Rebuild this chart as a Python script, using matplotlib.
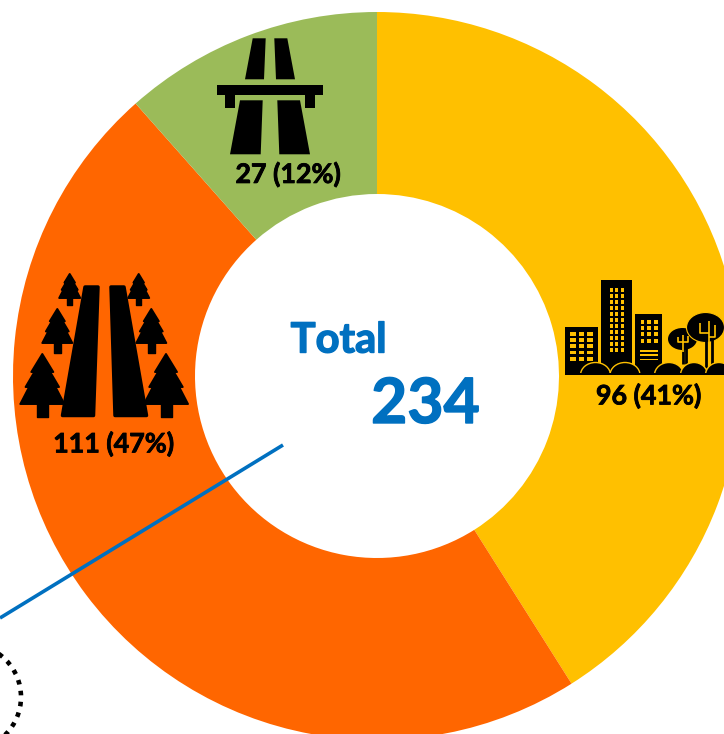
import matplotlib
matplotlib.use("Agg")
import matplotlib.pyplot as plt
import matplotlib.patheffects as pe
from matplotlib.patches import Circle, Ellipse, Polygon, Rectangle

counts = [96, 111, 27]
labels = ["96 (41%)", "111 (47%)", "27 (12%)"]
colors = ["#FFC000", "#FF6600", "#9BBB59"]
total = 234

BLUE = "#0070C0"
BLACK = "black"
FONT = "Lato"


def poly(ax, pts, color=BLACK, lw=0.0, z=3):
    ax.add_patch(Polygon(pts, closed=True, fc=color, ec=color, lw=lw, joinstyle="round", zorder=z))


def rect(ax, x0, y0, x1, y1, color=BLACK, z=3):
    ax.add_patch(Rectangle((x0, y0), x1 - x0, y1 - y0, fc=color, ec="none", zorder=z))


def tree(ax, cx, top, base, trunk, hw):
    """Three tier fir, drawn in pixel coords."""
    h = base - top
    pts = [
        (0, 0), (0.5, 0.36), (0.36, 0.36), (0.76, 0.66), (0.6, 0.66), (1.0, 1.0),
    ]
    right = [(cx + a * hw, top + b * h) for a, b in pts]
    left = [(cx - a * hw, top + b * h) for a, b in reversed(pts[1:])]
    poly(ax, right + left, lw=1.4)
    tw = hw * 0.25
    poly(ax, [(cx - tw, base), (cx + tw, base), (cx + tw, trunk), (cx - tw, trunk)], lw=1.0)


def motorway(ax):
    poly(ax, [(252.7, 38.3), (265.7, 38.3), (264, 79.3), (245, 79.3)])
    poly(ax, [(274.3, 38.3), (287.3, 38.3), (295, 79.3), (276, 79.3)])
    rect(ax, 217, 85, 323, 95)
    rect(ax, 225, 95, 235, 107.7)
    rect(ax, 305, 95, 315, 107.7)
    poly(ax, [(240, 100.3), (262.7, 100.3), (260.7, 154.3), (230, 154.3)])
    poly(ax, [(277.3, 100.3), (300, 100.3), (310, 154.3), (279.3, 154.3)])


def forest(ax):
    poly(ax, [(85, 287), (98, 287), (93.5, 415.5), (62.5, 415.5)], lw=2.5)
    poly(ax, [(111, 287), (124, 287), (146.5, 415.5), (115, 415.5)], lw=2.5)
    for cx in (42.3, 166):
        tree(ax, cx, 354, 404, 417, 22)
    for cx in (57.3, 151.3):
        tree(ax, cx, 309, 343, 353, 15)
    for cx in (69.7, 138.7):
        tree(ax, cx, 274, 298, 305, 10.5)


def city(ax):
    yellow = colors[0]
    rect(ax, 565, 327.3, 598.3, 375)
    rect(ax, 601.3, 280, 632, 372)
    rect(ax, 635, 314.3, 662.3, 375)
    for i in range(3):
        for j in range(5):
            x = 570 + i * 8.7
            y = 332 + j * 6.2
            rect(ax, x, y, x + 5.5, y + 3.8, yellow, z=4)
    for i in range(3):
        for j in range(11):
            x = 609.5 + i * 5.7
            y = 288 + j * 6.0
            rect(ax, x, y, x + 3.2, y + 4.2, yellow, z=4)
    for i in range(3):
        for j in range(4):
            x = 640.5 + i * 6.7
            y = 319.5 + j * 6.4
            rect(ax, x, y, x + 3.8, y + 4, yellow, z=4)
    for j in range(3):
        y = 350 + j * 4.3
        rect(ax, 640, y, 657.5, y + 1.8, yellow, z=4)

    # canopies, small one behind
    ax.add_patch(Ellipse((682.5, 339), 29, 22, fc=BLACK, ec="none", zorder=4))
    ax.add_patch(Ellipse((705.5, 327.5), 38, 30, fc=BLACK, ec=yellow, lw=0.8, zorder=5))

    # trunks
    for x, y0, y1 in [(683, 345, 364), (686, 345, 364), (705.7, 338, 368), (712, 338, 368)]:
        ax.plot([x, x], [y0, y1], color=BLACK, lw=2.0, zorder=5, solid_capstyle="butt")

    # branches cut out of the canopies
    for pts in (
        [(678, 337), (678, 342), (688, 342), (688, 336)],
        [(683, 335), (683, 352)],
        [(699.5, 323), (699.5, 333), (709, 333)],
        [(709, 321), (709, 345)],
        [(709, 337), (715, 337), (715, 325)],
    ):
        ax.plot(*zip(*pts), color=yellow, lw=1.2, zorder=6, solid_capstyle="butt")

    # bushes in front, cut off at the baseline
    base = Rectangle((565, 340), 159, 35, transform=ax.transData)
    for cx, w in [(595.5, 30), (625, 30), (669, 29), (694, 27), (719, 27)]:
        bush = Ellipse((cx, 375), w, 25, fc=BLACK, ec=yellow, lw=1.0, zorder=7)
        ax.add_patch(bush)
        bush.set_clip_path(base)
    rect(ax, 565, 372.5, 724, 375, BLACK, z=8)


fig = plt.figure(figsize=(7.24, 7.34), dpi=100)
ax = fig.add_axes([0, 0, 1, 1])

# y axis gets flipped below, so start at -90 to run clockwise from the top
ax.pie(
    counts,
    colors=colors,
    center=(377, 376),
    radius=364,
    startangle=-90,
    wedgeprops={"width": 182, "linewidth": 0},
)
ax.set_xlim(0, 724)
ax.set_ylim(734, 0)
ax.axis("off")

motorway(ax)
forest(ax)
city(ax)

label_pos = [(648.5, 396), (113.5, 444), (288, 174.5)]
for lab, (x, y) in zip(labels, label_pos):
    ax.text(x, y, lab, ha="center", va="center", fontsize=19.3, fontweight="bold",
            family=FONT, color=BLACK, zorder=10,
            path_effects=[pe.withStroke(linewidth=0.6, foreground=BLACK)])

thick = [pe.withStroke(linewidth=1.0, foreground=BLUE)]
ax.text(338.5, 340.5, "Total", ha="center", va="center", fontsize=30, fontweight="bold",
        family=FONT, color=BLUE, path_effects=thick)
ax.text(425.5, 405, str(total), ha="center", va="center", fontsize=45, fontweight="bold",
        family=FONT, color=BLUE, path_effects=thick)

ax.plot([283, 0], [445, 618], color=BLUE, lw=2.6, zorder=9, solid_capstyle="butt")

ax.add_patch(Circle((-32, 697), 53, fc="none", ec=BLACK, lw=3.3,
                    linestyle=(0, (1, 1.4)), zorder=9))

fig.savefig("out.png", dpi=100, facecolor="white")
